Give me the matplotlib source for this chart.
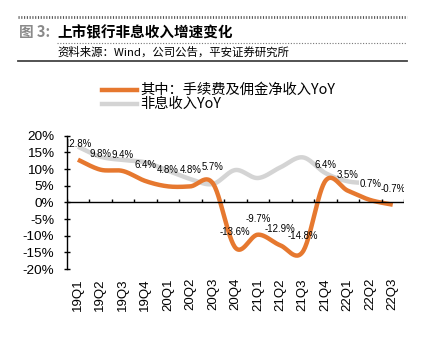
import numpy as np
import matplotlib
matplotlib.use("Agg")
import matplotlib.pyplot as plt
from matplotlib.lines import Line2D

plt.rcParams['font.family'] = ['Liberation Sans', 'Noto Sans CJK SC', 'DejaVu Sans']

categories = ['19Q1', '19Q2', '19Q3', '19Q4', '20Q1', '20Q2', '20Q3', '20Q4',
              '21Q1', '21Q2', '21Q3', '21Q4', '22Q1', '22Q2', '22Q3']
fee_yoy = [12.8, 9.8, 9.4, 6.4, 4.8, 4.8, 5.7, -13.6, -9.7, -12.9, -14.8, 6.4, 3.5, 0.7, -0.7]
nonint_yoy = [16.7, 13.7, 12.7, 12.0, 9.5, 7.0, 5.5, 9.7, 7.3, 10.5, 13.5, 8.8, 6.3, 5.8, np.nan]
fee_labels = ['12.8%', '9.8%', '9.4%', '6.4%', '4.8%', '4.8%', '5.7%', '-13.6%', '-9.7%',
              '-12.9%', '-14.8%', '6.4%', '3.5%', '0.7%', '-0.7%']
yticks = [-20, -15, -10, -5, 0, 5, 10, 15, 20]
title_prefix = '图 3:'
title_text = '上市银行非息收入增速变化'
source_text = '资料来源：Wind，公司公告，平安证券研究所'
legend_fee = '其中：手续费及佣金净收入YoY'
legend_non = '非息收入YoY'

ORANGE = '#E6782F'
GRAY = '#D4D4D4'

W, H = 441, 343


def smooth(xs, ys, n=30):
    xs = np.asarray(xs, float)
    ys = np.asarray(ys, float)
    m = ~np.isnan(ys)
    xs, ys = xs[m], ys[m]
    P = np.column_stack([xs, ys])
    out = []
    for i in range(len(P) - 1):
        p0 = P[i - 1] if i > 0 else P[i]
        p1 = P[i]
        p2 = P[i + 1]
        p3 = P[i + 2] if i + 2 < len(P) else P[i + 1]
        c1 = p1 + (p2 - p0) / 6.0
        c2 = p2 - (p3 - p1) / 6.0
        t = np.linspace(0, 1, n)[:, None]
        seg = ((1 - t) ** 3) * p1 + 3 * ((1 - t) ** 2) * t * c1 + 3 * (1 - t) * t ** 2 * c2 + t ** 3 * p2
        out.append(seg if i == 0 else seg[1:])
    S = np.vstack(out)
    return S[:, 0], S[:, 1]


fig = plt.figure(figsize=(W / 100, H / 100), dpi=100)
left, right = 66.7 / W, 404 / W
top, bottom = 1 - 135.7 / H, 1 - 269 / H
ax = fig.add_axes([left, bottom, right - left, top - bottom])

x = np.arange(len(categories))
gx, gy = smooth(x, nonint_yoy)
ox, oy = smooth(x, fee_yoy)
ax.plot(gx, gy, color=GRAY, lw=3.2, solid_capstyle='butt', zorder=2)
ax.plot(ox, oy, color=ORANGE, lw=3.2, solid_capstyle='butt', zorder=3)

last_gray = int(np.where(~np.isnan(np.asarray(nonint_yoy, float)))[0][-1])
for i, (xi, yi, lab) in enumerate(zip(x, fee_yoy, fee_labels)):
    kw = {}
    if i == last_gray:
        kw['bbox'] = dict(boxstyle='square,pad=0.05', fc='white', ec='none')
    ax.annotate(lab, (xi, yi), xytext=(0, 11.5), textcoords='offset points',
                ha='center', va='center', fontsize=6.9, color='black', zorder=5,
                annotation_clip=False, clip_on=True, **kw)

ax.set_xlim(-0.5, len(categories) - 0.5)
ax.set_ylim(-20, 20)
ax.set_yticks(yticks)
ax.set_yticklabels([f'{v}%' for v in yticks], fontsize=9.7)
ax.tick_params(axis='y', direction='inout', length=4, width=1, pad=7)
ax.set_xticks(x)
ax.set_xticklabels(categories, rotation=90, fontsize=9.5)
ax.tick_params(axis='x', length=0, pad=6.5)
for s in ['top', 'right', 'bottom']:
    ax.spines[s].set_visible(False)
ax.spines['left'].set_linewidth(1)
ax.axhline(0, color='black', lw=1, zorder=4)
ax.vlines(np.arange(len(categories) + 1) - 0.5, 0, 1.0, color='black', lw=1, zorder=4)


def fx(px):
    return px / W


def fy(py):
    return 1 - py / H


# header decorations
fig.add_artist(Line2D([fx(18), fx(407)], [fy(17), fy(17)], color='#555555', lw=2,
                      linestyle=(0, (0.4, 0.6))))
fig.add_artist(Line2D([fx(57), fx(407)], [fy(43), fy(43)], color='#777777', lw=0.8,
                      linestyle=(0, (1, 1.5))))
fig.add_artist(Line2D([fx(18), fx(407)], [fy(61), fy(61)], color='#444444', lw=1.3))

fig.text(fx(19), fy(32.5), title_prefix, fontsize=10.5, fontweight='bold', color='#8A8A8A',
         ha='left', va='center', family=['Noto Sans CJK SC', 'DejaVu Sans'])
fig.text(fx(57), fy(32.5), title_text, fontsize=10.5, fontweight='bold', color='black',
         ha='left', va='center', family=['Noto Sans CJK SC', 'DejaVu Sans'])
fig.text(fx(57), fy(52.5), source_text, fontsize=8.2, color='black', fontweight='medium',
         ha='left', va='center', family=['Noto Sans CJK SC', 'DejaVu Sans'])

# legend
fig.add_artist(Line2D([fx(102), fx(137)], [fy(89.7), fy(89.7)], color=ORANGE, lw=3.2))
fig.add_artist(Line2D([fx(102), fx(137)], [fy(104.3), fy(104.3)], color=GRAY, lw=3.2))
fig.text(fx(140), fy(89.7), legend_fee, fontsize=10.3, ha='left', va='center',
         family=['Noto Sans CJK SC', 'DejaVu Sans'])
fig.text(fx(140), fy(104.3), legend_non, fontsize=10.3, ha='left', va='center',
         family=['Noto Sans CJK SC', 'DejaVu Sans'])

fig.savefig('out.png', dpi=100, facecolor='white')
